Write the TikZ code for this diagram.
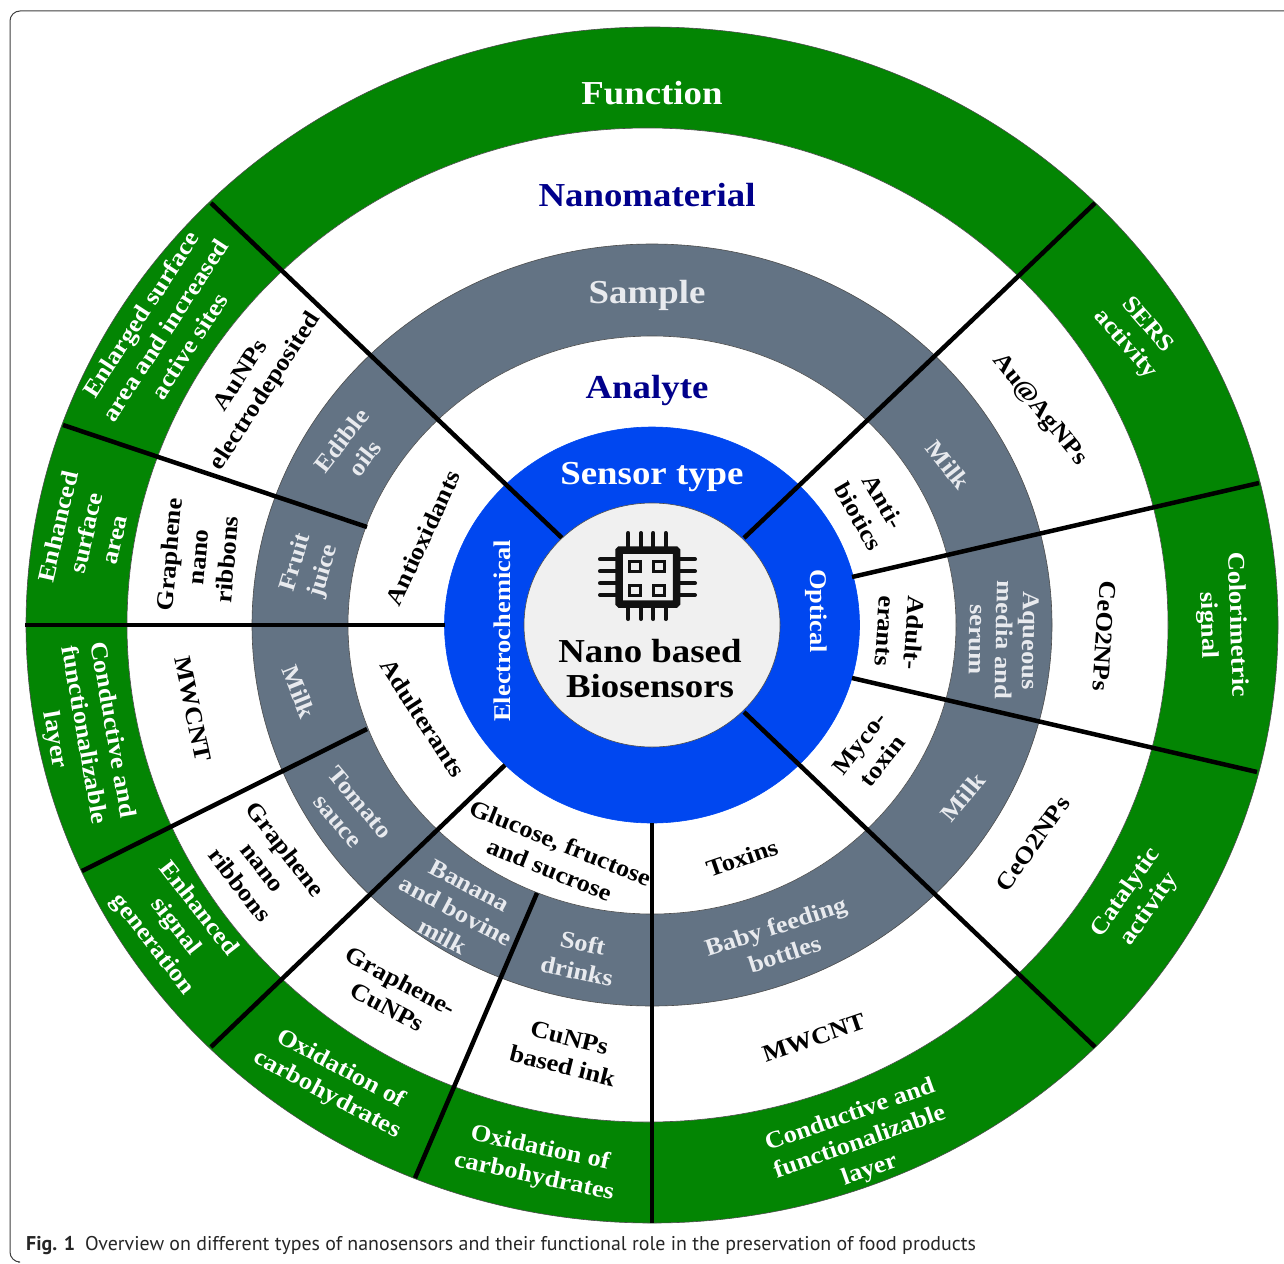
\documentclass[tikz,border=0pt]{standalone}
\usepackage{fontspec}
\setmainfont[FakeStretch=1.1]{Liberation Serif}
\newfontfamily\capfont{PT Sans}
\definecolor{ringgreen}{RGB}{3,133,3}
\definecolor{ringgray}{RGB}{99,115,132}
\definecolor{ringblue}{RGB}{0,71,240}
\definecolor{coregray}{RGB}{240,240,240}
\definecolor{headnavy}{RGB}{0,0,139}
\definecolor{graytext}{RGB}{232,234,238}
\definecolor{chipblack}{RGB}{17,17,17}
\tikzset{
  ring/.style={draw=black!70, line width=0.6pt},
  divider/.style={-, line width=4.5pt, draw=black},
  lab/.style={align=center, inner sep=0pt, font=\fontsize{24}{29}\selectfont\bfseries},
  greenlab/.style={lab, text=white},
  graylab/.style={lab, text=graytext},
  blacklab/.style={lab, text=black},
  headlab/.style={lab, font=\fontsize{33.5}{36}\selectfont\bfseries},
  pin/.style={line width=4pt, draw=chipblack, line cap=round},
  cell/.style={line width=3pt, draw=chipblack, fill=coregray}
}
\begin{document}
\begin{tikzpicture}[x=1pt, y=-1pt]
\useasboundingbox (0,0) rectangle (1284,1263);
\fill[white] (0,0) rectangle (1284,1263);
\draw[draw=black!75, line width=1pt, rounded corners=10pt] (1284,11) -- (10,11) -- (10,1262) -- (18,1262);
\coordinate (c) at (652,625);
\coordinate (cn) at (647.5,625);
\draw[ring, fill=ringgreen] (c) ellipse [x radius=626, y radius=598];
\draw[ring, fill=white] (cn) ellipse [x radius=520.5, y radius=497];
\draw[ring, fill=ringgray] (c) ellipse [x radius=400, y radius=381];
\draw[ring, fill=white] (c) ellipse [x radius=304, y radius=289];
\draw[ring, fill=ringblue, draw=ringblue] (c) ellipse [x radius=207.5, y radius=198];
\coordinate (a1) at (211,203);
\coordinate (a2) at (562,538);
\coordinate (b1) at (1095,203);
\coordinate (b2) at (744,538);
\coordinate (d1) at (63,425);
\coordinate (d2) at (367,527);
\coordinate (e1) at (25,625);
\coordinate (e2) at (445,625);
\coordinate (f1) at (82,871);
\coordinate (f2) at (367,729);
\coordinate (g1) at (211,1047);
\coordinate (g2) at (505,765);
\coordinate (h1) at (415,1178);
\coordinate (h2) at (537,893);
\coordinate (i1) at (652,1223);
\coordinate (i2) at (652,823);
\coordinate (j1) at (1095,1047);
\coordinate (j2) at (744,712);
\coordinate (k1) at (1257,772);
\coordinate (k2) at (852,678);
\coordinate (l1) at (1259,483);
\coordinate (l2) at (852,577);
\path [divider] (a1) edge (a2);
\path [divider] (b1) edge (b2);
\path [divider] (d1) edge (d2);
\path [divider] (e1) edge (e2);
\path [divider] (f1) edge (f2);
\path [divider] (g1) edge (g2);
\path [divider] (h1) edge (h2);
\path [divider] (i1) edge (i2);
\path [divider] (j1) edge (j2);
\path [divider] (k1) edge (k2);
\path [divider] (l1) edge (l2);
\draw[ring, fill=coregray] (c) ellipse [x radius=128, y radius=122];
\node[headlab, text=white] (function) at (652,93) {Function};
\node[headlab, text=headnavy] (nanomaterial) at (647,195) {Nanomaterial};
\node[headlab, text=graytext] (sample) at (647,295) {Sample};
\node[headlab, text=headnavy] (analyte) at (647,390) {Analyte};
\node[headlab, text=white] (sensortype) at (652,477) {Sensor type};
\node[greenlab, rotate=90] (electro) at (502,631) {Electrochemical};
\node[greenlab, rotate=-90] (optical) at (816,611) {Optical};
\node[headlab, text=black, font=\fontsize{33.5}{35}\selectfont\bfseries] (core) at (650,669) {Nano based\\Biosensors};
\node[greenlab, rotate=57] (f1lab) at (165,330) {Enlarged surface\\area and increased\\active sites};
\node[greenlab, rotate=77] (f2lab) at (86,533) {Enhanced\\surface\\area};
\node[greenlab, rotate=-80] (f3lab) at (83,735) {Conductive and\\functionalizable\\layer};
\node[greenlab, rotate=-52] (f4lab) at (175,927) {Enhanced\\signal\\generation};
\node[greenlab, rotate=-28] (f5lab) at (334,1082) {Oxidation of\\carbohydrates};
\node[greenlab, rotate=-12] (f6lab) at (537,1163) {Oxidation of\\carbohydrates};
\node[greenlab, rotate=19.5] (f7lab) at (860,1143) {Conductive and\\functionalizable\\layer};
\node[greenlab, rotate=55] (f8lab) at (1138,901) {Catalytic\\activity};
\node[greenlab, rotate=-88] (f9lab) at (1222,625) {Colorimetric\\signal};
\node[greenlab, rotate=-49] (f10lab) at (1136,335) {SERS\\activity};
\node[blacklab, rotate=57] (n1lab) at (254,384) {AuNPs\\electrodeposited};
\node[blacklab, rotate=85] (n2lab) at (198,557) {Graphene\\nano\\ribbons};
\node[blacklab, rotate=-78] (n3lab) at (193,709) {MWCNT};
\node[blacklab, rotate=-52] (n4lab) at (263,867) {Graphene\\nano\\ribbons};
\node[blacklab, rotate=-28] (n5lab) at (394,994) {Graphene-\\CuNPs};
\node[blacklab, rotate=-14] (n6lab) at (566,1052) {CuNPs\\based ink};
\node[blacklab, rotate=19] (n7lab) at (814,1038) {MWCNT};
\node[blacklab, rotate=55] (n8lab) at (1033,844) {CeO2NPs};
\node[blacklab, rotate=-94] (n9lab) at (1104,636) {CeO2NPs};
\node[blacklab, rotate=-51] (n10lab) at (1039,410) {Au@AgNPs};
\node[graylab, rotate=52] (s1lab) at (353,449) {Edible\\oils};
\node[graylab, rotate=73] (s2lab) at (310,567) {Fruit\\juice};
\node[graylab, rotate=-68] (s3lab) at (299,692) {Milk};
\node[graylab, rotate=-50] (s4lab) at (349,812) {Tomato\\sauce};
\node[graylab, rotate=-28] (s5lab) at (456,911) {Banana\\and bovine\\milk};
\node[graylab, rotate=-12] (s6lab) at (580,957) {Soft\\drinks};
\node[graylab, rotate=18] (s7lab) at (780,940) {Baby feeding\\bottles};
\node[graylab, rotate=50] (s8lab) at (963,797) {Milk};
\node[graylab, rotate=-91, font=\fontsize{24}{26.5}\selectfont\bfseries] (s9lab) at (1004,640) {Aqueous\\media and\\serum};
\node[graylab, rotate=-52] (s10lab) at (948,465) {Milk};
\node[blacklab, rotate=65] (t1lab) at (423,538) {Antioxidants};
\node[blacklab, rotate=-57] (t2lab) at (423,718) {Adulterants};
\node[blacklab, rotate=-22] (t3lab) at (555,856) {Glucose, fructose\\and sucrose};
\node[blacklab, rotate=19] (t4lab) at (742,858) {Toxins};
\node[blacklab, rotate=52] (t5lab) at (871,752) {Myco-\\toxin};
\node[blacklab, rotate=-94] (t6lab) at (900,632) {Adult-\\erants};
\node[blacklab, rotate=-60] (t7lab) at (871,509) {Anti-\\biotics};
\draw[pin] (628.3,533) -- (628.3,548) (641,533) -- (641,548) (653.3,533) -- (653.3,548) (665.7,533) -- (665.7,548);
\draw[pin] (628.3,606) -- (628.3,619) (641,606) -- (641,619) (653.3,606) -- (653.3,619) (665.7,606) -- (665.7,619);
\draw[pin] (600,559.3) -- (617,559.3) (600,571.3) -- (617,571.3) (600,583.3) -- (617,583.3) (600,595) -- (617,595);
\draw[pin] (678,559.3) -- (695,559.3) (678,571.3) -- (695,571.3) (678,583.3) -- (695,583.3) (678,595) -- (695,595);
\draw[line width=7.5pt, draw=chipblack, fill=coregray, rounded corners=1pt] (619,550) rectangle (676.5,604);
\draw[cell] (629.5,561) rectangle (640,571.5);
\draw[cell] (653.5,561) rectangle (664,571.5);
\draw[cell] (629.5,585) rectangle (640,595.5);
\draw[cell] (653.5,585) rectangle (664,595.5);
\node[anchor=base west, inner sep=0pt, font=\capfont\fontsize{19.9}{24}\selectfont, text=black!85] (caption) at (26,1250) {\textbf{Fig. 1}\hspace{0.5em}Overview on different types of nanosensors and their functional role in the preservation of food products};
\end{tikzpicture}
\end{document}
